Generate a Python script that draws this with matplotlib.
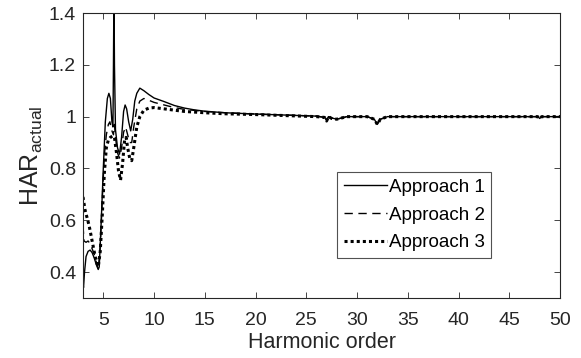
import matplotlib
matplotlib.use("Agg")
import matplotlib.pyplot as plt

plt.rcParams["font.family"] = ["Liberation Sans", "DejaVu Sans"]
plt.rcParams["mathtext.fontset"] = "custom"
plt.rcParams["mathtext.rm"] = "Liberation Sans"
plt.rcParams["mathtext.it"] = "Liberation Sans"

# Approach 1 (solid)
x1 = [3.0, 3.05, 3.15, 3.3, 3.5, 3.7, 3.9, 4.1, 4.3, 4.5, 4.6, 4.8, 5.0, 5.2, 5.4,
      5.55, 5.7, 5.85, 5.95, 6.0, 6.05, 6.1, 6.2, 6.4, 6.6, 6.8, 7.0, 7.15, 7.3, 7.5,
      7.7, 7.9, 8.1, 8.3, 8.6, 9.0, 9.5, 10, 11, 12, 13, 14, 15, 17, 20, 23, 26,
      26.8, 27.0, 27.2, 27.5, 28, 29, 31, 31.7, 32.0, 32.3, 33, 40, 47.8, 48.0, 48.2, 50]
y1 = [0.36, 0.34, 0.40, 0.46, 0.48, 0.485, 0.475, 0.455, 0.43, 0.41, 0.42, 0.60, 0.80, 0.98, 1.07,
      1.09, 1.07, 0.98, 0.96, 1.20, 1.50, 1.20, 0.95, 0.88, 0.855, 0.92, 1.02, 1.045, 1.03, 0.98,
      0.945, 0.99, 1.06, 1.09, 1.11, 1.10, 1.085, 1.072, 1.058, 1.043, 1.033, 1.026, 1.021, 1.015, 1.01, 1.006, 1.002,
      0.997, 0.985, 1.0, 0.995, 0.99, 1.0, 1.0, 0.99, 0.97, 0.99, 1.0, 1.0, 1.0, 0.993, 1.0, 1.0]

# Approach 2 (dashed)
x2 = [3.0, 3.1, 3.3, 3.5, 3.7, 3.9, 4.1, 4.3, 4.5, 4.7, 4.9, 5.1, 5.3, 5.5, 5.65,
      5.8, 6.0, 6.1, 6.2, 6.4, 6.6, 6.8, 7.0, 7.2, 7.4, 7.6, 7.8, 8.0, 8.3, 8.6,
      9.0, 9.5, 10, 11, 12, 13, 15, 17, 20, 23, 26,
      26.8, 27.0, 27.2, 27.5, 28, 29, 31, 31.7, 32.0, 32.3, 33, 40, 47.8, 48.0, 48.2, 50]
y2 = [0.58, 0.52, 0.515, 0.52, 0.51, 0.49, 0.47, 0.44, 0.41, 0.50, 0.68, 0.85, 0.93, 0.97, 0.98,
      0.95, 0.93, 0.97, 0.92, 0.86, 0.84, 0.88, 0.94, 0.96, 0.93, 0.90, 0.90, 0.96, 1.03, 1.06,
      1.07, 1.063, 1.055, 1.045, 1.035, 1.028, 1.02, 1.015, 1.01, 1.006, 1.002,
      0.997, 0.985, 1.0, 0.995, 0.99, 1.0, 1.0, 0.99, 0.975, 0.99, 1.0, 1.0, 1.0, 0.995, 1.0, 1.0]

# Approach 3 (dotted)
x3 = [3.0, 3.2, 3.4, 3.6, 3.8, 4.0, 4.2, 4.4, 4.5, 4.7, 4.9, 5.1, 5.3, 5.5, 5.7,
      5.9, 6.1, 6.3, 6.5, 6.7, 6.9, 7.1, 7.25, 7.4, 7.6, 7.8, 8.0, 8.3, 8.6, 9.0,
      9.5, 10, 11, 12, 13, 15, 17, 20, 23, 26,
      26.8, 27.0, 27.2, 27.5, 28, 29, 31, 31.7, 32.0, 32.3, 33, 40, 47.8, 48.0, 48.2, 50]
y3 = [0.69, 0.64, 0.61, 0.58, 0.54, 0.50, 0.46, 0.43, 0.42, 0.48, 0.62, 0.78, 0.88, 0.91, 0.92,
      0.925, 0.92, 0.86, 0.79, 0.755, 0.82, 0.91, 0.92, 0.88, 0.84, 0.83, 0.88, 0.96, 1.0, 1.025,
      1.033, 1.035, 1.03, 1.025, 1.02, 1.015, 1.011, 1.008, 1.004, 1.0,
      0.997, 0.983, 1.0, 0.993, 0.99, 1.0, 1.0, 0.99, 0.97, 0.99, 1.0, 1.0, 1.0, 0.993, 1.0, 1.0]

fig = plt.figure(figsize=(5.81, 3.58), dpi=100)
ax = fig.add_axes([83 / 581, 60 / 358, 477 / 581, 285 / 358])

ax.plot(x1, y1, color="black", linestyle="-", linewidth=1.0, label="Approach 1")
ax.plot(x2, y2, color="black", linestyle=(0, (6, 4)), linewidth=1.0, label="Approach 2")
ax.plot(x3, y3, color="black", linestyle=(0, (1, 1)), linewidth=2.2, label="Approach 3")

ax.set_xlim(3, 50)
ax.set_ylim(0.3, 1.4)
ax.set_xticks(range(5, 51, 5))
ax.set_yticks([0.4, 0.6, 0.8, 1.0, 1.2, 1.4])
ax.set_yticklabels(["0.4", "0.6", "0.8", "1", "1.2", "1.4"])
ax.tick_params(direction="in", length=4, width=0.6, labelsize=14, colors="#262626",
               top=True, right=True, pad=5)
ax.tick_params(axis="x", pad=10)
for s in ax.spines.values():
    s.set_linewidth(0.8)
    s.set_color("#262626")

ax.set_xlabel("Harmonic order", fontsize=15.5, color="#262626", labelpad=2)
ax.set_ylabel(r"HAR$_{\rm actual}$", fontsize=18, color="#262626", labelpad=3)

leg = ax.legend(loc="upper left", bbox_to_anchor=((337 - 83) / 477, (298 - 172) / 285),
                fontsize=13.5, frameon=True, fancybox=False, handlelength=2.3,
                handletextpad=0.1, borderpad=0.35, labelspacing=0.57, borderaxespad=0)
leg.get_frame().set_edgecolor("#262626")
leg.get_frame().set_linewidth(0.8)

fig.savefig("out.png", dpi=100)
